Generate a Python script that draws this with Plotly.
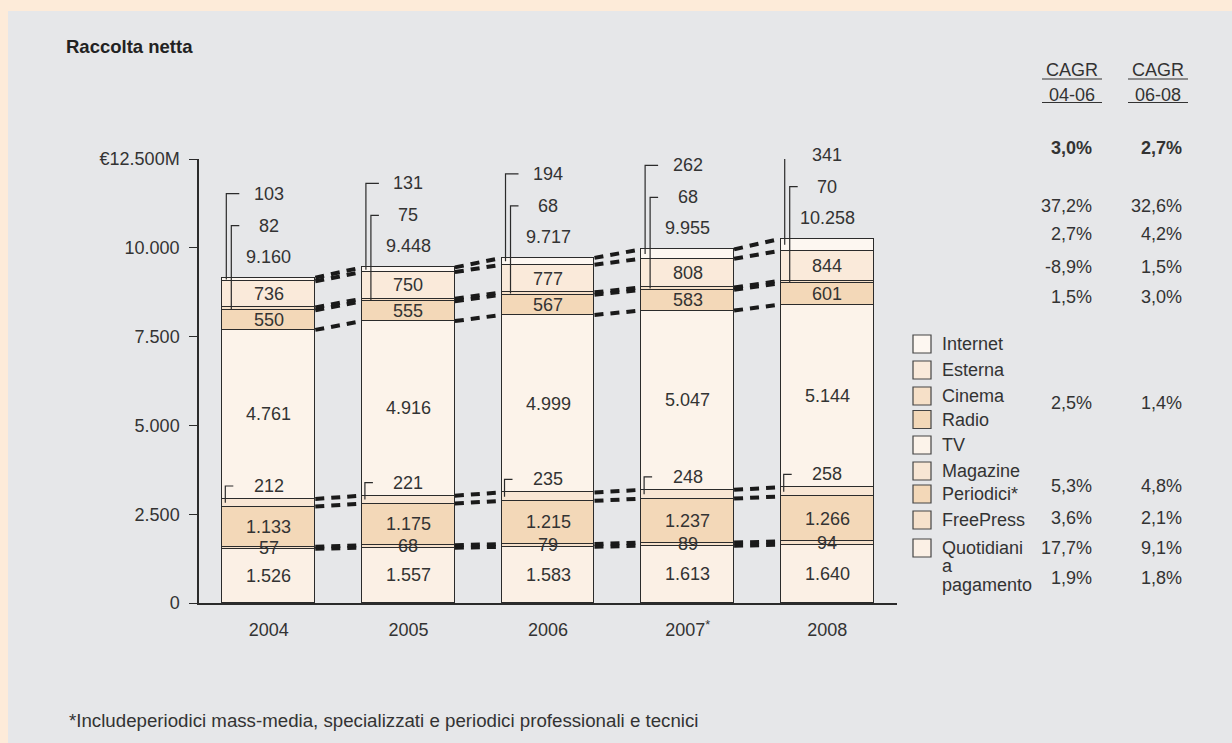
import plotly.graph_objects as go

# ---------------- data ----------------
years = ["2004", "2005", "2006", "2007", "2008"]
year_labels = ["2004", "2005", "2006", "2007<sup>*</sup>", "2008"]

quotidiani = [1526, 1557, 1583, 1613, 1640]
freepress = [57, 68, 79, 89, 94]
periodici = [1133, 1175, 1215, 1237, 1266]
magazine = [212, 221, 235, 248, 258]
tv = [4761, 4916, 4999, 5047, 5144]
radio = [550, 555, 567, 583, 601]
cinema = [82, 75, 68, 68, 70]
esterna = [736, 750, 777, 808, 844]
internet = [103, 131, 194, 262, 341]

series_names = ["Quotidiani a pagamento", "FreePress", "Periodici*", "Magazine",
                "TV", "Radio", "Cinema", "Esterna", "Internet"]
series_values = [quotidiani, freepress, periodici, magazine, tv, radio, cinema, esterna, internet]
series_colors = ["#FBF0E5", "#F6E1CB", "#F3D8B8", "#F8E6D4", "#FCF3EA",
                 "#F3D8B8", "#F6E0C8", "#FAEADA", "#FDF7F1"]

legend_labels = ["Internet", "Esterna", "Cinema", "Radio", "TV", "Magazine",
                 "Periodici*", "FreePress", "Quotidiani"]

y_tick_vals = [0, 2500, 5000, 7500, 10000, 12500]
y_tick_text = ["0", "2.500", "5.000", "7.500", "10.000", "€12.500M"]

cagr_04_06 = [3.0, 37.2, 2.7, -8.9, 1.5, 2.5, 5.3, 3.6, 17.7, 1.9]
cagr_06_08 = [2.7, 32.6, 4.2, 1.5, 3.0, 1.4, 4.8, 2.1, 9.1, 1.8]

title_text = "Raccolta netta"
footnote_text = "*Includeperiodici mass-media, specializzati e periodici professionali e tecnici"

# ---------------- layout constants ----------------
W, H = 1232, 743
ML, MR, MT, MB = 199, 335, 159, 140
PW, PH = W - ML - MR, H - MT - MB
XR = (-0.5, 4.5)
YR = (0, 12500)
ux = (XR[1] - XR[0]) / PW
uy = (YR[1] - YR[0]) / PH
BAR_W = 0.666
TXT = "#333333"
LINE = "#2b2b2b"
FONT = "Liberation Sans"
FS = 18


def pxx(px):
    return (px - ML) / PW


def pxy(py):
    return (H - MB - py) / PH


def fmt(v):
    return f"{v:,}".replace(",", ".")


def fpct(v):
    return f"{v:.1f}%".replace(".", ",")


xs = list(range(len(years)))

# cumulative tops
cum = []
run = [0] * len(years)
for vals in series_values:
    run = [a + b for a, b in zip(run, vals)]
    cum.append(run[:])
totals = cum[-1]

fig = go.Figure()

for name, vals, col in zip(series_names, series_values, series_colors):
    fig.add_trace(go.Bar(
        x=xs, y=vals, name=name, width=BAR_W,
        marker=dict(color=col, line=dict(color=LINE, width=1.2)),
        hoverinfo="skip", showlegend=False,
    ))

# dashed connectors between bars
cx, cy = [], []
for k in range(len(series_values)):
    for i in range(len(years) - 1):
        cx += [xs[i] + BAR_W / 2, xs[i + 1] - BAR_W / 2, None]
        cy += [cum[k][i], cum[k][i + 1], None]
fig.add_trace(go.Scatter(
    x=cx, y=cy, mode="lines",
    line=dict(color="#1a1a1a", width=4, dash="9px,7px"),
    hoverinfo="skip", showlegend=False,
))

annotations = []
shapes = []

# background panel
shapes.append(dict(type="rect", xref="paper", yref="paper", layer="below",
                   x0=pxx(8), x1=pxx(W + 5), y0=pxy(H + 5), y1=pxy(11),
                   fillcolor="#E6E7E9", line=dict(width=0)))


def ann_paper(px, py, text, xanchor="center", size=FS, color=TXT):
    annotations.append(dict(x=pxx(px), y=pxy(py), xref="paper", yref="paper",
                            xanchor=xanchor, yanchor="middle", showarrow=False,
                            text=text, font=dict(size=size, color=color, family=FONT)))


inside_idx = [0, 1, 2, 4, 5, 7]
for i in xs:
    left = xs[i] - BAR_W / 2
    # values inside segments
    for k in inside_idx:
        top = cum[k][i]
        mid = top - series_values[k][i] / 2
        annotations.append(dict(x=xs[i], y=mid, xref="x", yref="y",
                                xanchor="center", yanchor="middle",
                                text=fmt(series_values[k][i]), showarrow=False,
                                font=dict(size=FS, color=TXT, family=FONT)))
    # magazine label + bracket
    mtop = cum[3][i]
    mmid = mtop - magazine[i] / 2
    annotations.append(dict(x=xs[i], y=mtop, yshift=13, xref="x", yref="y",
                            xanchor="center", yanchor="middle",
                            text=fmt(magazine[i]), showarrow=False,
                            font=dict(size=FS, color=TXT, family=FONT)))
    bx = left + 3 * ux
    shapes.append(dict(type="path", xref="x", yref="y",
                       path=f"M{bx},{mmid} L{bx},{mtop + 13 * uy} L{left + 11 * ux},{mtop + 13 * uy}",
                       line=dict(color=LINE, width=1.2)))
    # total, cinema, internet labels
    tot = totals[i]
    for val, shift in [(tot, 21), (cinema[i], 52), (internet[i], 84)]:
        annotations.append(dict(x=xs[i], y=tot, yshift=shift, xref="x", yref="y",
                                xanchor="center", yanchor="middle",
                                text=fmt(val), showarrow=False,
                                font=dict(size=FS, color=TXT, family=FONT)))
    cmid = cum[6][i] - cinema[i] / 2
    cxp = left + 9 * ux
    shapes.append(dict(type="path", xref="x", yref="y",
                       path=f"M{cxp},{cmid} L{cxp},{tot + 52 * uy} L{left + 17 * ux},{tot + 52 * uy}",
                       line=dict(color=LINE, width=1.2)))
    imid = cum[8][i] - internet[i] / 2
    ixp = left + 4 * ux
    shapes.append(dict(type="path", xref="x", yref="y",
                       path=f"M{ixp},{imid} L{ixp},{tot + 84 * uy} L{left + 17 * ux},{tot + 84 * uy}",
                       line=dict(color=LINE, width=1.2)))

# title and footnote
ann_paper(64, 47, f"<b>{title_text}</b>", xanchor="left", size=18.5, color="#222222")
ann_paper(67, 720, footnote_text, xanchor="left", size=18.7)

# legend (custom)
legend_y = [344, 370, 396, 419.5, 445, 471, 494, 520, 548]
legend_colors = series_colors[::-1]
for lab, col, ly in zip(legend_labels, legend_colors, legend_y):
    shapes.append(dict(type="rect", xref="paper", yref="paper",
                       x0=pxx(913), x1=pxx(931), y0=pxy(ly + 9), y1=pxy(ly - 9),
                       fillcolor=col, line=dict(color="#444444", width=1.2)))
    ann_paper(940, ly, lab, xanchor="left")
for lab, ly in [("a", 566), ("pagamento", 585)]:
    ann_paper(940, ly, lab, xanchor="left")

# CAGR headers
for cxm, sub in [(1072, "04-06"), (1158, "06-08")]:
    ann_paper(cxm, 70, "CAGR")
    ann_paper(cxm, 95, sub)
    for uyp in (79, 102.5):
        shapes.append(dict(type="line", xref="paper", yref="paper",
                           x0=pxx(cxm - 30), x1=pxx(cxm + 30), y0=pxy(uyp), y1=pxy(uyp),
                           line=dict(color=TXT, width=1.2)))

cagr_y = [148, 206, 234, 267, 297, 403, 486, 518, 548, 578]
for j, (a, b, ry) in enumerate(zip(cagr_04_06, cagr_06_08, cagr_y)):
    for v, rx in [(a, 1094), (b, 1184)]:
        t = fpct(v)
        if j == 0:
            t = f"<b>{t}</b>"
        ann_paper(rx, ry, t, xanchor="right")

fig.update_layout(
    width=W, height=H,
    margin=dict(l=ML, r=MR, t=MT, b=MB, pad=0),
    paper_bgcolor="#FDEBD9",
    plot_bgcolor="rgba(0,0,0,0)",
    barmode="stack",
    bargap=0,
    showlegend=False,
    font=dict(family=FONT, size=FS, color=TXT),
    annotations=annotations,
    shapes=shapes,
    xaxis=dict(range=list(XR), tickmode="array", tickvals=xs, ticktext=year_labels,
               showgrid=False, zeroline=False, showline=True, linecolor=LINE, linewidth=1.5,
               ticks="", ticklabelstandoff=10, tickfont=dict(size=FS, color=TXT, family=FONT),
               fixedrange=True),
    yaxis=dict(range=list(YR), tickmode="array", tickvals=y_tick_vals, ticktext=y_tick_text,
               showgrid=False, zeroline=False, showline=True, linecolor=LINE, linewidth=1.5,
               ticks="outside", ticklen=8, tickwidth=1.2, tickcolor=LINE,
               ticklabelstandoff=6, tickfont=dict(size=FS, color=TXT, family=FONT),
               fixedrange=True),
)

fig.write_html("out.html")
